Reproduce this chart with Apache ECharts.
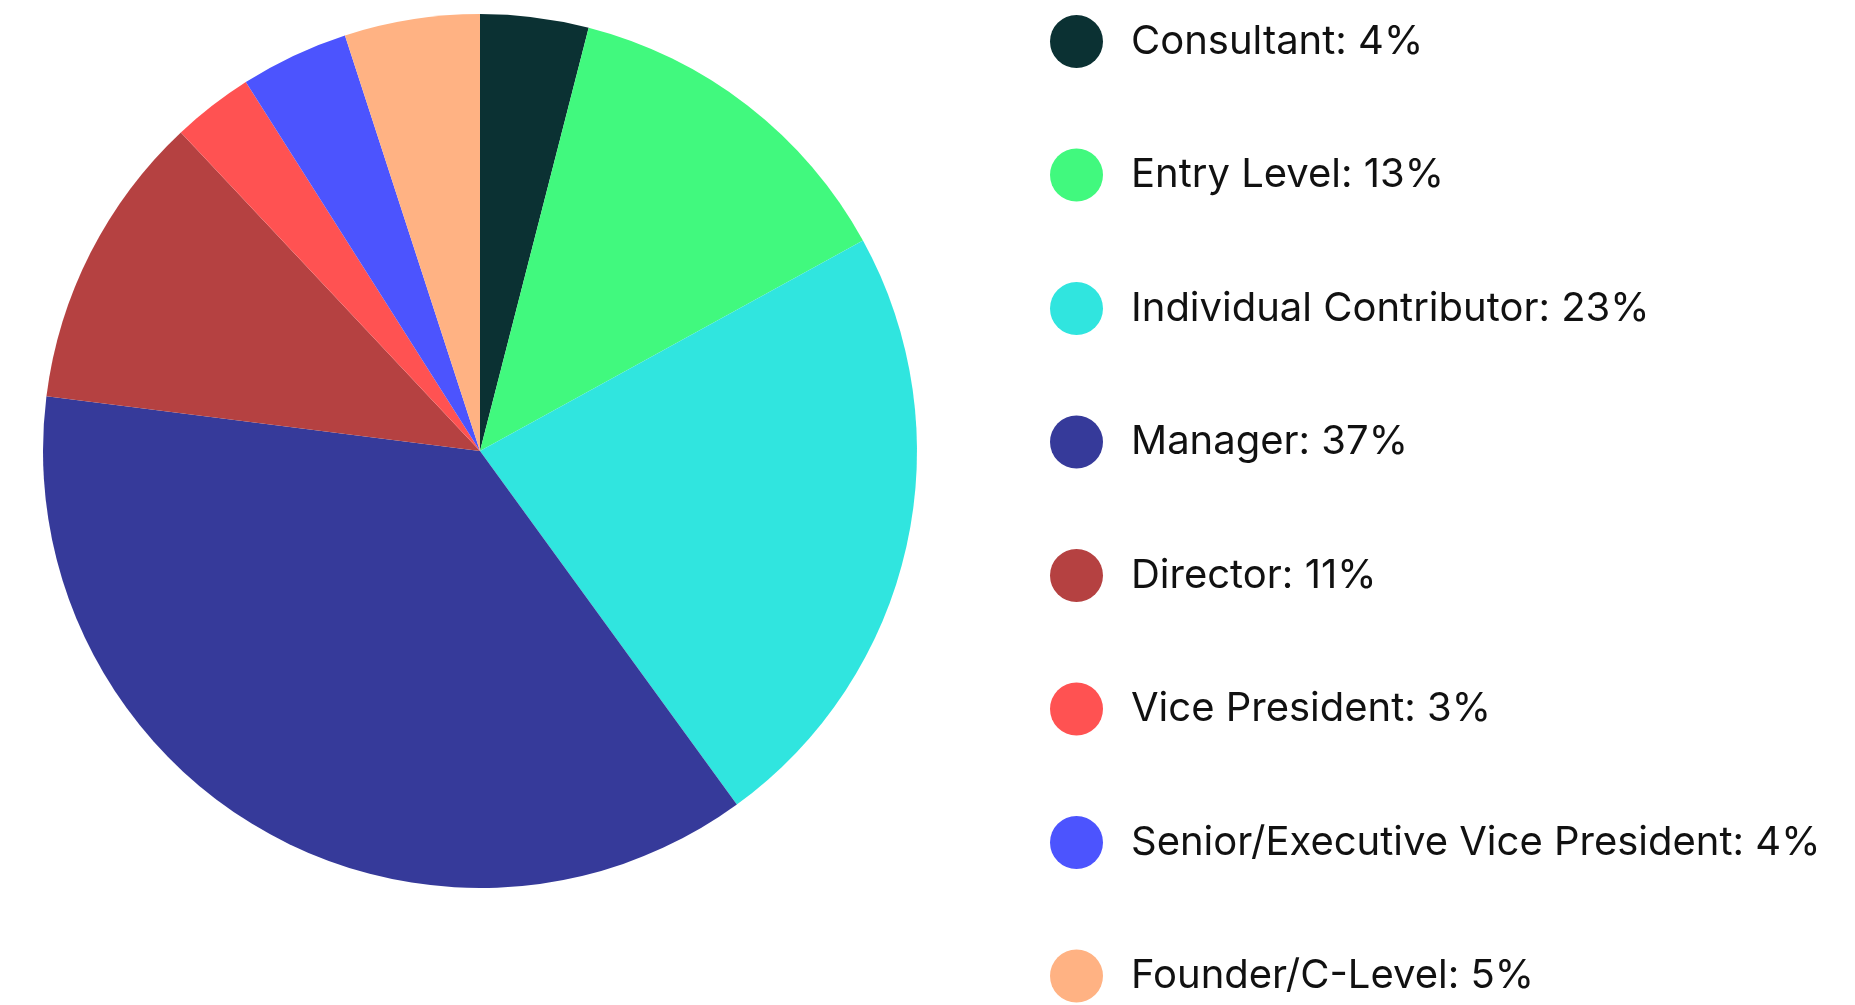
<!DOCTYPE html>
<html>
<head>
<meta charset="utf-8">
<style>
  html, body { margin: 0; padding: 0; background: #ffffff; }
  #chart { width: 1855px; height: 1005px; }
</style>
<script src="https://cdn.jsdelivr.net/npm/echarts@6/dist/echarts.min.js"></script>
</head>
<body>
<div id="chart"></div>
<script>
// Seniority breakdown, percent of respondents
const categories = [
  'Consultant',
  'Entry Level',
  'Individual Contributor',
  'Manager',
  'Director',
  'Vice President',
  'Senior/Executive Vice President',
  'Founder/C-Level'
];
const shares = [4, 13, 23, 37, 11, 3, 4, 5];
const sliceColors = [
  '#0B3133', '#41F97E', '#30E5DF', '#363A9A',
  '#B54141', '#FF5252', '#4C54FE', '#FFB283'
];

const chart = echarts.init(document.getElementById('chart'), null, { renderer: 'canvas' });

chart.setOption({
  animation: false,
  color: sliceColors,
  legend: {
    orient: 'vertical',
    left: 1050,
    top: 15,
    padding: 0,
    icon: 'circle',
    itemWidth: 53,
    itemHeight: 53,
    itemGap: 80.5,
    selectedMode: false,
    textStyle: {
      fontFamily: 'Inter',
      fontSize: 40,
      color: '#111111',
      padding: [0, 0, 0, 23]
    },
    formatter: function (name) {
      const i = categories.indexOf(name);
      return name + ': ' + shares[i] + '%';
    },
    data: categories
  },
  series: [{
    type: 'pie',
    center: [480, 451],
    radius: [0, 437],
    startAngle: 90,
    clockwise: true,
    label: { show: false },
    labelLine: { show: false },
    emphasis: { disabled: true },
    itemStyle: { borderWidth: 0 },
    data: categories.map((c, i) => ({ name: c, value: shares[i] }))
  }]
});
</script>
</body>
</html>
